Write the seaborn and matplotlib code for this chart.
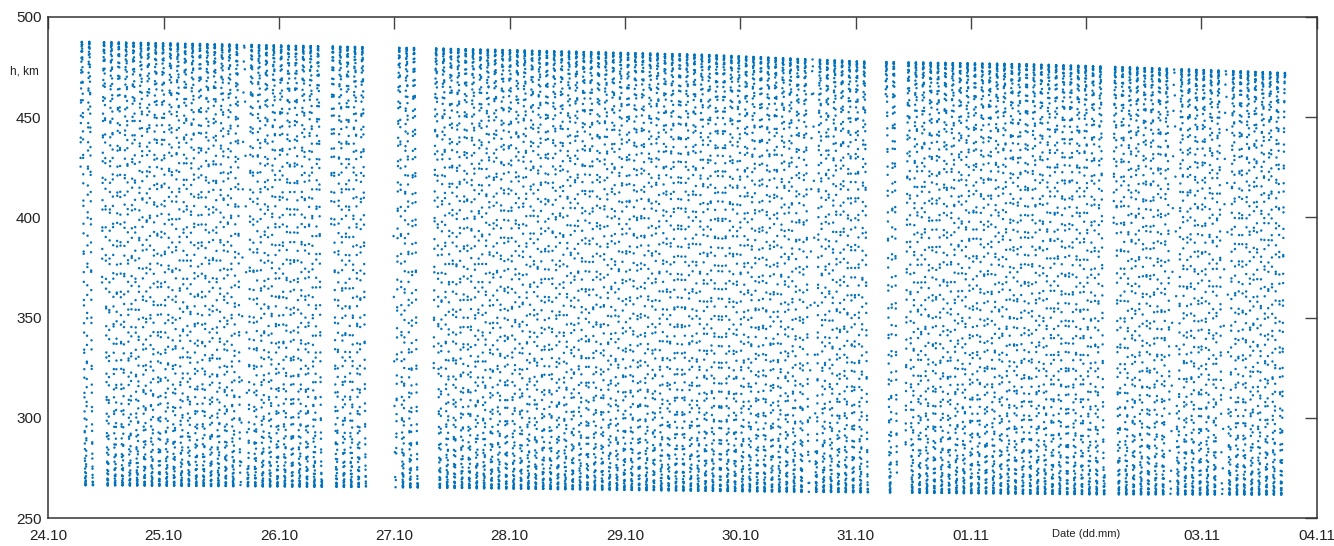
import numpy as np
import pandas as pd
import matplotlib
matplotlib.use("Agg")
import matplotlib.pyplot as plt
import seaborn as sns

# ── Data (time in days since 24.10, altitude in km) ───────────────────────────
# orbit: apogee passes every PERIOD days, first reference apogee at T0
PERIOD = 0.06401
T0 = 0.4822
SAMPLE_STEP = 0.000579          # ~50 s between fixes

# data coverage windows (start, end) in days
COVER_START = [0.278, 0.465, 2.452, 2.992, 3.341, 7.261, 7.434, 9.238]
COVER_END   = [0.387, 2.373, 2.754, 3.205, 7.108, 7.359, 9.160, 10.726]

# orbits with only a few fixes (apogee times)
SPARSE_ORB  = [1.694, 6.621, 9.754, 10.202, 2.984]

# apogee / perigee envelope
APO_DAY = [0.30, 3.35, 5.70, 7.07, 8.50, 9.25, 10.72]
APO_KM  = [487.5, 484.2, 481.0, 477.6, 476.3, 475.0, 472.0]
PER_DAY = [0.30, 3.00, 6.00, 9.00, 10.72]
PER_KM  = [266.5, 265.5, 263.5, 262.0, 261.8]

TICK_POS    = list(range(12))
TICK_LABELS = ["24.10", "25.10", "26.10", "27.10", "28.10", "29.10",
               "30.10", "31.10", "01.11", "Date (dd.mm)", "03.11", "04.11"]

COL = "#0072BD"


def van_der_corput(n, bits=16):
    # deterministic fix-time offsets (receiver timing is not strictly regular)
    out = np.zeros(n)
    idx = np.arange(n)
    for b in range(bits):
        out += ((idx >> b) & 1) / 2.0 ** (b + 1)
    return out


# ── Build samples ─────────────────────────────────────────────────────────────
n_all = int(11.0 / SAMPLE_STEP)
t_all = (np.arange(n_all) + 0.9 * van_der_corput(n_all)) * SAMPLE_STEP
keep = np.zeros_like(t_all, dtype=bool)
for a, b in zip(COVER_START, COVER_END):
    keep |= (t_all >= a) & (t_all <= b)
# thin the sparse orbits
for c in SPARSE_ORB:
    m = np.abs(t_all - c) < PERIOD / 2
    idx = np.where(m)[0]
    keep[idx[np.arange(len(idx)) % 5 != 0]] = False
t = t_all[keep]

apo = np.interp(t, APO_DAY, APO_KM)
per = np.interp(t, PER_DAY, PER_KM)
h = (apo + per) / 2 + (apo - per) / 2 * np.cos(2 * np.pi * (t - T0) / PERIOD)

df = pd.DataFrame({"day": t, "h": h})

# ── Plot ──────────────────────────────────────────────────────────────────────
sns.set_style("white")
plt.rcParams["font.family"] = ["Liberation Sans", "DejaVu Sans"]

fig = plt.figure(figsize=(13.34, 5.46), dpi=100)
ax = fig.add_axes([0.0363, 0.0507, 0.9508, 0.9187])

sns.scatterplot(data=df, x="day", y="h", ax=ax, s=3, color=COL,
                linewidth=0, edgecolor="none", legend=False)

ax.set_xlim(0, 11)
ax.set_ylim(250, 500)
ax.set_xticks(TICK_POS)
ax.set_xticklabels(TICK_LABELS)
ax.set_yticks([250, 300, 350, 400, 450, 500])
ax.set_xlabel("")
ax.set_ylabel("")

for sp in ax.spines.values():
    sp.set_color("#333333")
    sp.set_linewidth(1.1)

ax.tick_params(axis="both", which="both", direction="in", length=8.6,
               width=1.0, color="#444444", top=True, right=True,
               labelsize=11, labelcolor="#222222")
ax.tick_params(axis="x", pad=8)
ax.tick_params(axis="y", pad=5)

for lbl in ax.get_xticklabels():
    if lbl.get_text() == "Date (dd.mm)":
        lbl.set_fontsize(8)

ax.text(-0.0075, 0.89, "h, km", transform=ax.transAxes, ha="right",
        va="center", fontsize=8.5, color="#222222")

fig.savefig("out.png", dpi=100)
